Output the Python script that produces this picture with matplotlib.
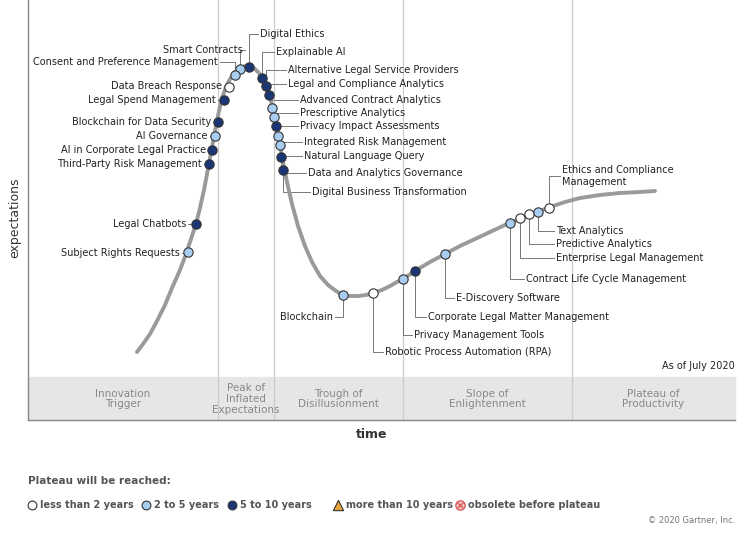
import matplotlib
matplotlib.use('Agg')
import matplotlib.pyplot as plt

# curve shape (pixel coords of reference)
curva_x = [137, 143, 150, 157, 165, 172, 180, 186, 191, 196, 200, 204, 207, 210, 213, 216, 219, 222,
           226, 230, 235, 240, 245, 250, 255, 259, 263, 267, 271, 274, 277, 280, 283, 287, 292, 298,
           305, 312, 320, 328, 336, 343, 350, 358, 366, 373, 382, 390, 397, 403, 415, 430, 445, 460,
           475, 490, 505, 520, 535, 550, 565, 580, 600, 620, 640, 655]
curva_y = [352, 344, 334, 321, 305, 288, 270, 254, 239, 224, 208, 190, 174, 158, 142, 126, 111, 98,
           87, 79, 72, 68, 66, 66, 69, 73, 80, 89, 101, 114, 129, 145, 162, 182, 204, 226,
           246, 262, 276, 285, 291, 295, 296, 296, 295, 293, 290, 286, 282, 279, 271, 262, 254, 246,
           239, 232, 225, 219, 213, 207, 202, 198, 195, 193, 192, 191]

# tecnologias: nombre, x, y del punto, tipo (0 <2, 1 2-5, 2 5-10), x,y etiqueta, lado
nombres = ["Digital Ethics", "Smart Contracts", "Consent and Preference Management", "Data Breach Response",
           "Legal Spend Management", "Blockchain for Data Security", "AI Governance",
           "AI in Corporate Legal Practice", "Third-Party Risk Management", "Legal Chatbots",
           "Subject Rights Requests", "Explainable AI", "Alternative Legal Service Providers",
           "Legal and Compliance Analytics", "Advanced Contract Analytics", "Prescriptive Analytics",
           "Privacy Impact Assessments", "Integrated Risk Management", "Natural Language Query",
           "Data and Analytics Governance", "Digital Business Transformation", "Blockchain",
           "Robotic Process Automation (RPA)", "Privacy Management Tools", "Corporate Legal Matter Management",
           "E-Discovery Software", "Contract Life Cycle Management", "Enterprise Legal Management",
           "Predictive Analytics", "Text Analytics", "Ethics and Compliance\nManagement"]
punto_x = [249, 240, 235, 229, 224, 218, 215, 212, 209, 196, 188, 262, 266, 269, 272, 274, 276, 278, 280,
           281, 283, 343, 373, 403, 415, 445, 510, 520, 529, 538, 549]
punto_y = [67, 69, 75, 87, 100, 122, 136, 150, 164, 224, 252, 78, 86, 95, 108, 117, 126, 136, 145, 157,
           170, 295, 293, 279, 271, 254, 223, 218, 214, 212, 208]
tipo = [2, 1, 1, 0, 2, 2, 1, 2, 2, 2, 1, 2, 2, 2, 1, 1, 2, 1, 1, 2, 2, 1, 0, 1, 2, 1, 1, 0, 0, 1, 0]
etiq_x = [260, 243, 218, 222, 216, 211, 208, 206, 202, 186, 180, 276, 288, 288, 300, 300, 300, 304, 304,
          308, 312, 333, 385, 414, 428, 456, 526, 556, 556, 556, 562]
etiq_y = [34, 50, 62, 86, 100, 122, 136, 150, 164, 224, 253, 52, 70, 84, 100, 113, 126, 142, 156, 173,
          192, 317, 352, 335, 317, 298, 279, 258, 244, 231, 176]
lado = ['R', 'L', 'L', 'L', 'L', 'L', 'L', 'L', 'L', 'L', 'L', 'R', 'R', 'R', 'R', 'R', 'R', 'R', 'R',
        'R', 'R', 'L', 'R', 'R', 'R', 'R', 'R', 'R', 'R', 'R', 'R']

fases = ["Innovation\nTrigger", "Peak of\nInflated\nExpectations", "Trough of\nDisillusionment",
         "Slope of\nEnlightenment", "Plateau of\nProductivity"]
limites = [28, 218, 274, 403, 572, 735]

colores = ['white', '#a9cdf0', '#1b3675']
gris = '#555555'

fig = plt.figure(figsize=(7.5, 5.37), dpi=100)
ax = fig.add_axes([0, 0, 1, 1])
ax.set_xlim(0, 750)
ax.set_ylim(537, 0)
ax.axis('off')

# banda de fases
ax.fill_between([28, 735], 377, 420, color='#e6e6e6', zorder=0)
for i, f in enumerate(fases):
    ax.text((limites[i] + limites[i + 1]) / 2, 399, f, ha='center', va='center', fontsize=7.5,
            color='#888888', linespacing=1.1)
for xl in limites[1:-1]:
    ax.plot([xl, xl], [0, 420], color='#cccccc', lw=0.9, zorder=0)
ax.plot([28, 28], [0, 420], color='#888888', lw=1)
ax.plot([28, 735], [420, 420], color='#888888', lw=1)

ax.plot(curva_x, curva_y, color='#9a9a9a', lw=2.8, zorder=2, solid_capstyle='round',
        solid_joinstyle='round')

for n, px, py, t, lx, ly, s in zip(nombres, punto_x, punto_y, tipo, etiq_x, etiq_y, lado):
    if s == 'R':
        ax.plot([px, px, lx - 2], [py, ly, ly], color='#777777', lw=0.7, zorder=1)
        ax.text(lx, ly, n, ha='left', va='center', fontsize=7, color='#222222')
    else:
        ax.plot([px, px, lx + 2], [py, ly, ly], color='#777777', lw=0.7, zorder=1)
        ax.text(lx, ly, n, ha='right', va='center', fontsize=7, color='#222222')
    ax.scatter(px, py, s=45, color=colores[t], edgecolor='#333333', linewidth=0.8, zorder=4)

ax.text(735, 366, "As of July 2020", ha='right', va='center', fontsize=7, color='#222222')
ax.text(15, 218, "expectations", rotation=90, ha='center', va='center', fontsize=9, color='#333333')
ax.text(372, 434, "time", ha='center', va='center', fontsize=9, fontweight='bold', color='#333333')

# leyenda
ax.text(28, 481, "Plateau will be reached:", ha='left', va='center', fontsize=7.5, color=gris,
        fontweight='bold')
ley_x = [32, 146, 232, 338, 460]
ley_txt = ["less than 2 years", "2 to 5 years", "5 to 10 years", "more than 10 years",
           "obsolete before plateau"]
for i, (lx, lt) in enumerate(zip(ley_x, ley_txt)):
    if i < 3:
        ax.scatter(lx, 505, s=40, color=colores[i], edgecolor='#333333', linewidth=0.8)
    elif i == 3:
        ax.scatter(lx, 505, s=55, marker='^', color='#e8a33d', edgecolor='#333333', linewidth=0.8)
    else:
        ax.scatter(lx, 505, s=45, color='#f3c5c5', edgecolor='#d9534f', linewidth=0.9)
        ax.scatter(lx, 505, s=18, marker='x', color='#d9534f', linewidth=0.9)
    ax.text(lx + 8, 505, lt, ha='left', va='center', fontsize=7, color=gris, fontweight='bold')

ax.text(735, 521, "© 2020 Gartner, Inc.", ha='right', va='center', fontsize=6, color='#777777')

fig.savefig('out.png', dpi=100)
